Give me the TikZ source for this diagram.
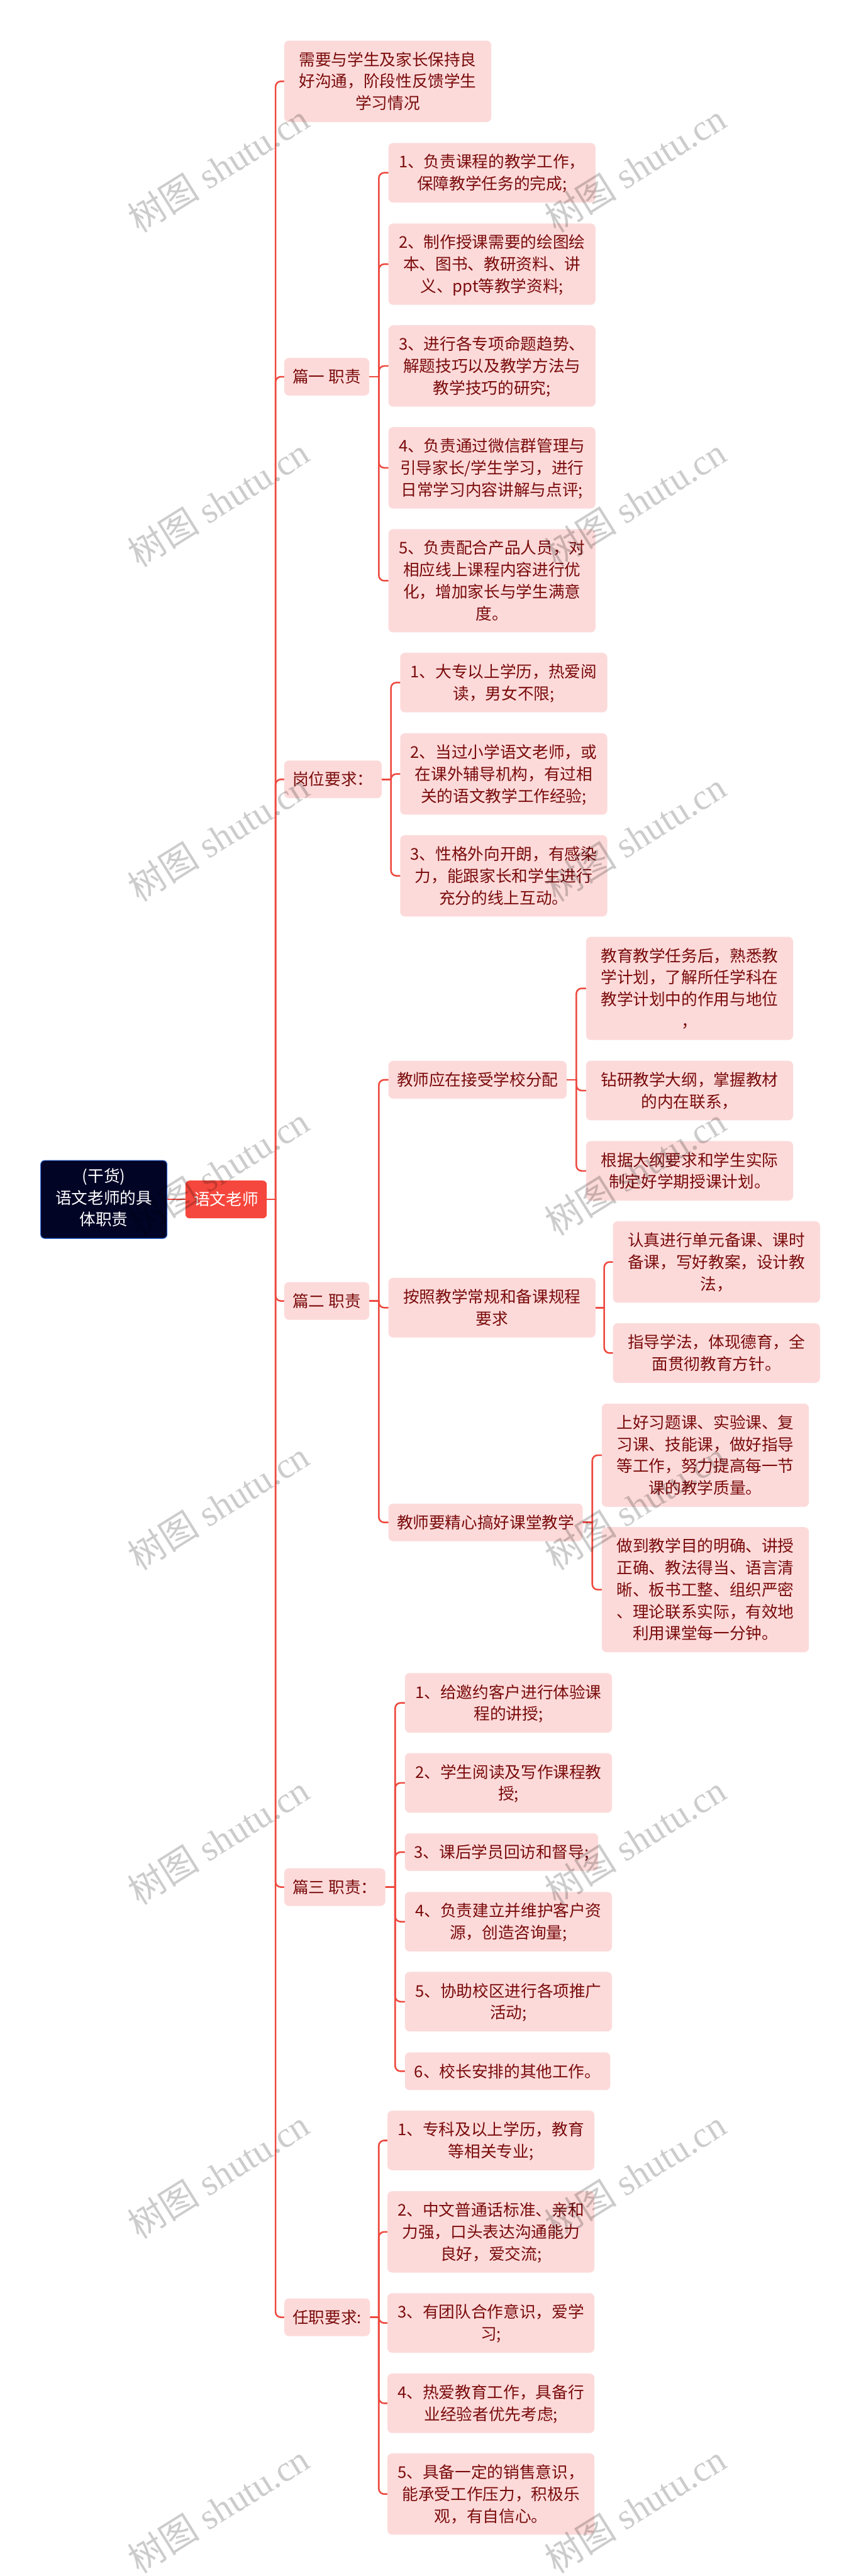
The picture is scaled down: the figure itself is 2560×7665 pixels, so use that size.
\documentclass[tikz,border=0pt]{standalone}
\usepackage{fontspec}
\usepackage{xcolor}
\usepackage{tikz}
\usetikzlibrary{calc}

\newfontfamily\cjk{Noto Sans CJK SC}
\newfontfamily\wmserif{Liberation Serif}

\definecolor{linkred}{HTML}{EE4A40}
\definecolor{topicred}{HTML}{F5473D}
\definecolor{leafpink}{HTML}{FDDADA}
\definecolor{leaftext}{HTML}{7A0B0B}
\definecolor{rootnavy}{HTML}{020426}
\definecolor{rootedge}{HTML}{2F6BD8}

\newcommand{\tstrut}{\rule[-3.6pt]{0pt}{16.25pt}}

\pgfdeclarelayer{background}
\pgfsetlayers{background,main}

\begin{document}
\begin{tikzpicture}[
  x=0.25pt, y=-0.25pt,
  box/.style={
    rectangle, anchor=west, align=center,
    font=\cjk\fontsize{12}{16.25}\selectfont,
    inner xsep=6.25pt, inner ysep=5.9pt,
    execute at begin node=\tstrut, execute at end node=\tstrut
  },
  rootbox/.style={box, fill=rootnavy, draw=rootedge, line width=0.5pt,
    text=white, rounded corners=3pt, inner xsep=11pt},
  teacherbox/.style={box, fill=topicred, text=white, rounded corners=3pt},
  topicbox/.style={box, fill=leafpink, text=leaftext, rounded corners=3.5pt},
  leafbox/.style={topicbox, text width=141.5pt},
  link/.style={draw=linkred, line width=1.2pt, line cap=round},
  wmark/.style={rotate=32, text=black, opacity=0.2, inner sep=0pt,
    font=\wmserif\fontsize{27}{30}\selectfont}
]

  \useasboundingbox (0,0) rectangle (2560,7665);

  % root and main topic
  \node [rootbox] (root) at (120,3569) {(干货)\\语文老师的具\\体职责};
  \node [teacherbox] (teacher) at (551,3569) {语文老师};

  % first level
  \node [leafbox] (comm) at (845,242) {需要与学生及家长保持良\\好沟通，阶段性反馈学生\\学习情况};
  \node [topicbox] (dutyA) at (845,1121) {篇一 职责};
  \node [topicbox] (post) at (845,2319) {岗位要求：};
  \node [topicbox] (dutyB) at (845,3871) {篇二 职责};
  \node [topicbox] (dutyC) at (845,5615) {篇三 职责：};
  \node [topicbox] (job) at (845,6895) {任职要求:};

  % 篇一 职责
  \node [leafbox] (dutyA1) at (1155,514) {1、负责课程的教学工作，\\保障教学任务的完成;};
  \node [leafbox] (dutyA2) at (1155,786) {2、制作授课需要的绘图绘\\本、图书、教研资料、讲\\义、ppt等教学资料;};
  \node [leafbox] (dutyA3) at (1155,1089) {3、进行各专项命题趋势、\\解题技巧以及教学方法与\\教学技巧的研究;};
  \node [leafbox] (dutyA4) at (1155,1392) {4、负责通过微信群管理与\\引导家长/学生学习，进行\\日常学习内容讲解与点评;};
  \node [leafbox] (dutyA5) at (1155,1728) {5、负责配合产品人员，对\\相应线上课程内容进行优\\化，增加家长与学生满意\\度。};

  % 岗位要求
  \node [leafbox] (post1) at (1190,2031) {1、大专以上学历，热爱阅\\读，男女不限;};
  \node [leafbox] (post2) at (1190,2303) {2、当过小学语文老师，或\\在课外辅导机构，有过相\\关的语文教学工作经验;};
  \node [leafbox] (post3) at (1190,2606) {3、性格外向开朗，有感染\\力，能跟家长和学生进行\\充分的线上互动。};

  % 篇二 职责
  \node [topicbox] (plan) at (1155,3213) {教师应在接受学校分配};
  \node [leafbox] (prep) at (1155,3891) {按照教学常规和备课规程\\要求};
  \node [topicbox] (class) at (1155,4530) {教师要精心搞好课堂教学};

  \node [leafbox] (plan1) at (1743,2941) {教育教学任务后，熟悉教\\学计划，了解所任学科在\\教学计划中的作用与地位\\，};
  \node [leafbox] (plan2) at (1743,3245) {钻研教学大纲，掌握教材\\的内在联系，};
  \node [leafbox] (plan3) at (1743,3484) {根据大纲要求和学生实际\\制定好学期授课计划。};

  \node [leafbox] (prep1) at (1823,3755) {认真进行单元备课、课时\\备课，写好教案，设计教\\法，};
  \node [leafbox] (prep2) at (1823,4026) {指导学法，体现德育，全\\面贯彻教育方针。};

  \node [leafbox] (class1) at (1790,4330) {上好习题课、实验课、复\\习课、技能课，做好指导\\等工作，努力提高每一节\\课的教学质量。};
  \node [leafbox] (class2) at (1790,4730) {做到教学目的明确、讲授\\正确、教法得当、语言清\\晰、板书工整、组织严密\\、理论联系实际，有效地\\利用课堂每一分钟。};

  % 篇三 职责
  \node [leafbox] (dutyC1) at (1204,5067) {1、给邀约客户进行体验课\\程的讲授;};
  \node [leafbox] (dutyC2) at (1204,5305) {2、学生阅读及写作课程教\\授;};
  \node [leafbox, text width=131.25pt] (dutyC3) at (1204,5511) {3、课后学员回访和督导;};
  \node [leafbox] (dutyC4) at (1204,5718) {4、负责建立并维护客户资\\源，创造咨询量;};
  \node [leafbox] (dutyC5) at (1204,5956) {5、协助校区进行各项推广\\活动;};
  \node [leafbox, text width=140.25pt] (dutyC6) at (1204,6163) {6、校长安排的其他工作。};

  % 任职要求
  \node [leafbox] (job1) at (1152,6369) {1、专科及以上学历，教育\\等相关专业;};
  \node [leafbox] (job2) at (1152,6641) {2、中文普通话标准、亲和\\力强，口头表达沟通能力\\良好，爱交流;};
  \node [leafbox] (job3) at (1152,6912) {3、有团队合作意识，爱学\\习;};
  \node [leafbox] (job4) at (1152,7151) {4、热爱教育工作，具备行\\业经验者优先考虑;};
  \node [leafbox] (job5) at (1152,7421) {5、具备一定的销售意识，\\能承受工作压力，积极乐\\观，有自信心。};

  % connectors, behind the boxes
  \begin{pgfonlayer}{background}
    \fill [white] (0,0) rectangle (2560,7665);
    \path [link] (root.east) -- (teacher.west);
    \foreach \p/\c in {teacher/comm, teacher/dutyA, teacher/post, teacher/dutyB,
        teacher/dutyC, teacher/job,
        dutyA/dutyA1, dutyA/dutyA2, dutyA/dutyA3, dutyA/dutyA4, dutyA/dutyA5,
        post/post1, post/post2, post/post3,
        dutyB/plan, dutyB/prep, dutyB/class,
        plan/plan1, plan/plan2, plan/plan3, prep/prep1, prep/prep2,
        class/class1, class/class2,
        dutyC/dutyC1, dutyC/dutyC2, dutyC/dutyC3, dutyC/dutyC4, dutyC/dutyC5, dutyC/dutyC6,
        job/job1, job/job2, job/job3, job/job4, job/job5}{
      \coordinate (m) at ($(\p.east)!.5!(\p.east -| \c.west)$);
      \path [link] (\p.east) -- (m);
      \path [link, rounded corners=4pt] (m) |- (\c.west);
    }
  \end{pgfonlayer}

  % watermarks
  \foreach \wy in {500,1495,2490,3485,4480,5475,6470,7465}{
    \node [wmark] at (650,\wy) {{\cjk 树图} shutu.cn};
    \node [wmark] at (1890,\wy) {{\cjk 树图} shutu.cn};
  }

\end{tikzpicture}
\end{document}
